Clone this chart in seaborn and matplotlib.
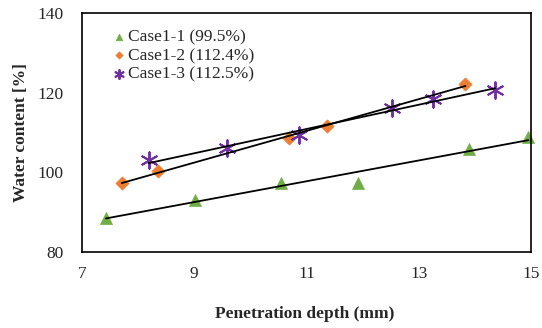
import matplotlib
matplotlib.use("Agg")
import matplotlib.pyplot as plt
import seaborn as sns
import numpy as np
import pandas as pd

# Data
case1_x = [7.43, 9.01, 10.55, 11.92, 13.90, 14.95]
case1_y = [88.6, 93.0, 97.4, 97.4, 105.9, 108.8]
case2_x = [7.71, 8.35, 10.69, 11.37, 13.83]
case2_y = [97.3, 100.3, 108.6, 111.6, 122.1]
case3_x = [8.19, 9.58, 10.87, 12.53, 13.26, 14.36]
case3_y = [103.0, 106.0, 109.5, 116.2, 118.3, 120.8]

labels = ["Case1-1 (99.5%)", "Case1-2 (112.4%)", "Case1-3 (112.5%)"]
colors = ["#70AD47", "#ED7D31", "#7030A0"]
markers = ["^", "D", (6, 2, 0)]
sizes = [75, 45, 140]

xticks = [7, 9, 11, 13, 15]
yticks = [80, 100, 120, 140]

sns.set_style("white")
plt.rcParams["font.family"] = ["Liberation Serif", "DejaVu Serif"]

fig = plt.figure(figsize=(5.42, 3.28), dpi=100)
ax = fig.add_axes([0.151, 0.232, 0.829, 0.728])

series = [(case1_x, case1_y), (case2_x, case2_y), (case3_x, case3_y)]
for (xs, ys), lab, col, mk, sz in zip(series, labels, colors, markers, sizes):
    df = pd.DataFrame({"x": xs, "y": ys})
    # linear trend line, from min to max x
    k, b = np.polyfit(df["x"], df["y"], 1)
    xl = np.array([df["x"].min(), df["x"].max()])
    ax.plot(xl, k * xl + b, color="black", lw=1.3, zorder=3)
    star = mk == (6, 2, 0)
    sns.scatterplot(data=df, x="x", y="y", ax=ax, marker=mk, s=sz, color=col,
                    edgecolor=None if star else col,
                    linewidth=1.4 if star else 0.5,
                    label=lab, zorder=2, clip_on=False)

ax.set_xlim(7, 15)
ax.set_ylim(80, 140)
ax.set_xticks(xticks)
ax.set_yticks(yticks)
ax.tick_params(length=0, labelsize=12.5)
ax.tick_params(axis="x", pad=10)
ax.tick_params(axis="y", pad=13)
for s in ax.spines.values():
    s.set_color("black")
    s.set_linewidth(1.2)

ax.set_xlabel("Penetration depth (mm)", fontsize=12.5, fontweight="bold")
ax.set_ylabel("Water content [%]", fontsize=12.5, fontweight="bold")
ax.xaxis.set_label_coords(0.497, -0.225)
ax.yaxis.set_label_coords(-0.117, 0.5)

leg = ax.legend(loc="upper left", bbox_to_anchor=(0.04, 0.975), frameon=False,
                fontsize=12.5, handletextpad=0.0, borderaxespad=0.2,
                labelspacing=0.12, handlelength=1.0, markerscale=0.55)

fig.savefig("out.png", dpi=100)
